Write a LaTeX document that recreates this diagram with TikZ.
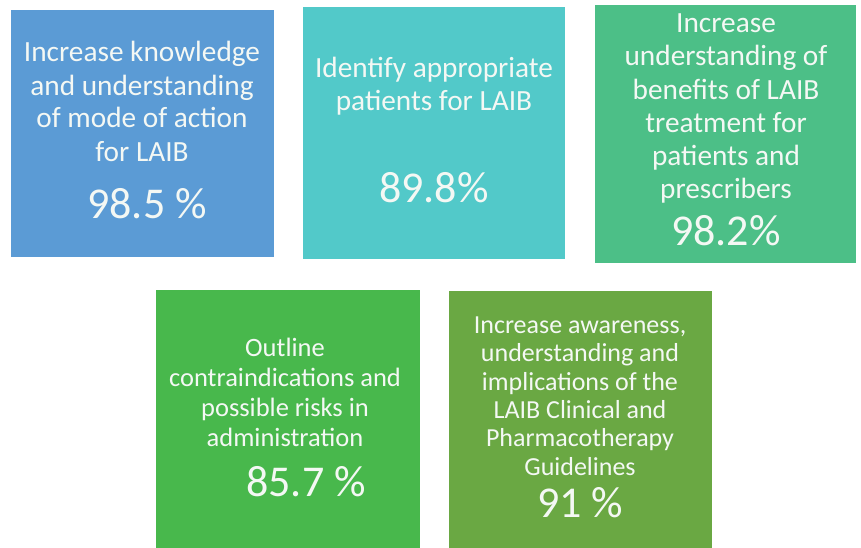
\documentclass[tikz,border=0pt]{standalone}
\usepackage{fontspec}
\setmainfont{Carlito}
\definecolor{cblue}{HTML}{5B9BD5}
\definecolor{cteal}{HTML}{52C9C9}
\definecolor{cmint}{HTML}{4CBF87}
\definecolor{cgreen}{HTML}{48B84C}
\definecolor{colive}{HTML}{6AA843}
\definecolor{ctext}{HTML}{F4F8F4}
\tikzset{
  lbl/.style={text=ctext, align=center, anchor=base, inner sep=0pt},
  big/.style={lbl, font=\fontsize{29.3}{33}\selectfont},
  mid/.style={lbl, font=\fontsize{26.5}{30}\selectfont},
  sml/.style={lbl, font=\fontsize{26}{28.3}\selectfont},
  pct/.style={lbl, font=\fontsize{44}{48}\selectfont},
}
\begin{document}
\begin{tikzpicture}[x=1pt,y=-1pt]
\useasboundingbox (0,0) rectangle (861,548);
% boxes
\fill[cblue]  (11,10)   rectangle (274,257) coordinate (b1);
\fill[cteal]  (303,7)   rectangle (565,259) coordinate (b2);
\fill[cmint]  (595,5)   rectangle (856,263) coordinate (b3);
\fill[cgreen] (156,290) rectangle (420,548) coordinate (b4);
\fill[colive] (449,291) rectangle (712,548) coordinate (b5);
% box 1 (anchor = baseline of last line)
\node[big] (t1) at (142,161) {Increase knowledge\\and understanding\\of mode of action\\for LAIB};
\node[pct] (p1) at (147,218) {98.5 \%};
% box 2
\node[big] (t2) at (434,111) {Identify appropriate\\patients for LAIB};
\node[pct] (p2) at (434,202) {89.8\%};
% box 3
\node[big] (t3) at (726,198) {Increase\\understanding of\\benefits of LAIB\\treatment for\\patients and\\prescribers};
\node[pct] (p3) at (726,245) {98.2\%};
% box 4
\node[mid] (t4) at (285,446) {Outline\\contraindications and\\possible risks in\\administration};
\node[pct] (p4) at (306,496) {85.7 \%};
% box 5
\node[sml] (t5) at (580,475) {Increase awareness,\\understanding and\\implications of the\\LAIB Clinical and\\Pharmacotherapy\\Guidelines};
\node[pct] (p5) at (580,517) {91 \%};
\end{tikzpicture}
\end{document}
